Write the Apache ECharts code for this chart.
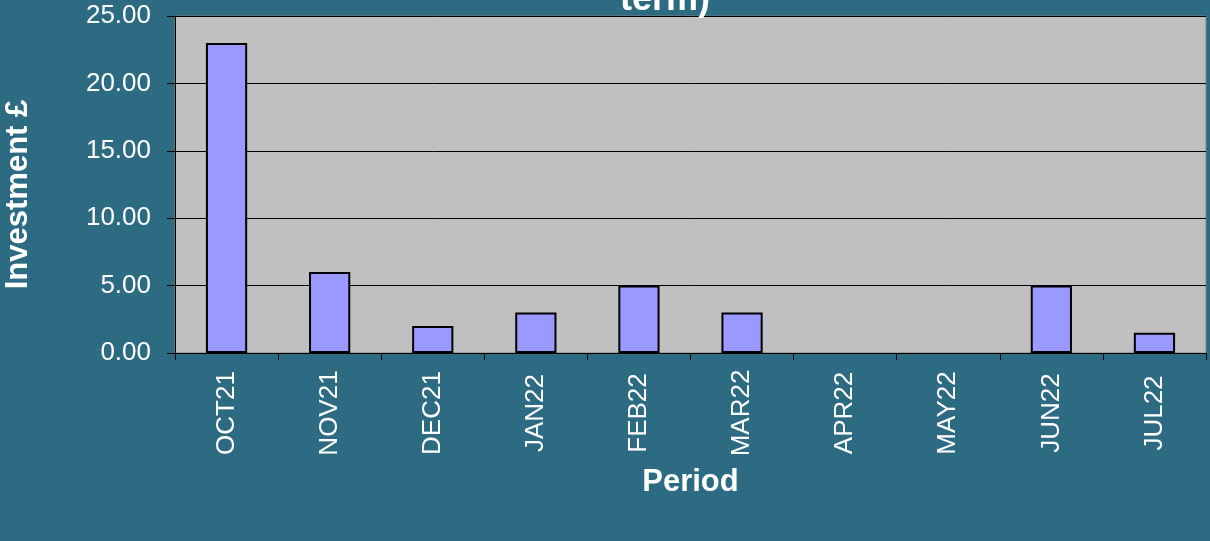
<!DOCTYPE html>
<html>
<head>
<meta charset="utf-8">
<script src="https://cdn.jsdelivr.net/npm/echarts@6/dist/echarts.min.js"></script>
<style>
  html, body { margin: 0; padding: 0; background: #2D6B82; }
  #chart { width: 1210px; height: 541px; }
</style>
</head>
<body>
<div id="chart"></div>
<script>
var periods = ['OCT21', 'NOV21', 'DEC21', 'JAN22', 'FEB22', 'MAR22', 'APR22', 'MAY22', 'JUN22', 'JUL22'];
var investment = [23, 6, 2, 3, 5, 3, 0, 0, 5, 1.5];

var myChart = echarts.init(document.getElementById('chart'));

// zero months draw nothing (no outline), like the original
var barData = investment.map(function (v) {
    return v === 0 ? { value: v, itemStyle: { borderWidth: 0, opacity: 0 } } : v;
});

var option = {
    backgroundColor: '#2D6B82',
    textStyle: { fontFamily: 'Liberation Sans, Arial, sans-serif' },
    title: {
        text: 'term)',
        left: 660,
        textAlign: 'center',
        top: -23,
        textStyle: { color: '#fff', fontSize: 36, fontWeight: 'bold' }
    },
    grid: {
        left: 175,
        right: 4,
        top: 16,
        bottom: 188,
        outerBoundsMode: 'none',
        containLabel: false,
        show: true,
        backgroundColor: '#C0C0C0',
        borderColor: '#808080',
        borderWidth: 1
    },
    xAxis: {
        type: 'category',
        data: periods,
        name: 'Period',
        nameLocation: 'middle',
        nameGap: 114,
        nameTextStyle: { color: '#fff', fontSize: 31, fontWeight: 'bold' },
        axisLine: { lineStyle: { color: '#000', width: 1 } },
        axisTick: { show: true, inside: false, length: 7, lineStyle: { color: '#000' } },
        axisLabel: { rotate: 90, align: 'center', color: '#fff', fontSize: 26, margin: 60 }
    },
    yAxis: {
        type: 'value',
        min: 0,
        max: 25,
        interval: 5,
        name: 'Investment £',
        nameLocation: 'middle',
        nameGap: 141,
        nameTextStyle: { color: '#fff', fontSize: 31, fontWeight: 'bold', padding: [0, 20, 0, 0] },
        axisLine: { show: true, lineStyle: { color: '#000', width: 1 } },
        axisTick: { show: true, inside: false, length: 8, lineStyle: { color: '#000' } },
        axisLabel: {
            color: '#fff',
            fontSize: 26,
            margin: 24,
            formatter: function (v) { return v.toFixed(2); }
        },
        splitLine: { show: true, lineStyle: { color: '#000', width: 1 } }
    },
    series: [
        {
            name: 'Investment',
            type: 'bar',
            data: barData,
            barWidth: '40%',
            itemStyle: {
                color: '#9999FF',
                borderColor: '#000',
                borderWidth: 2
            }
        }
    ]
};
myChart.setOption(option);
</script>
</body>
</html>
